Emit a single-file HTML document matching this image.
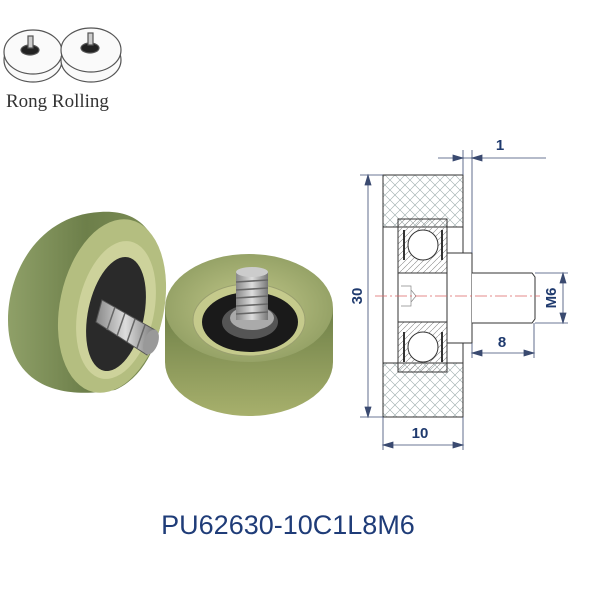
<!DOCTYPE html>
<html><head><meta charset="utf-8"><style>
html,body{margin:0;padding:0;background:#fff;width:600px;height:600px;overflow:hidden}
</style></head><body>
<svg width="600" height="600" xmlns="http://www.w3.org/2000/svg" style="position:absolute;left:0;top:0">
<defs>
<pattern id="hx" width="10" height="10" patternUnits="userSpaceOnUse">
<path d="M0,0 L10,10 M10,0 L0,10" stroke="#9aa" stroke-width="0.6"/>
</pattern>
<pattern id="hl" width="6" height="6" patternUnits="userSpaceOnUse">
<path d="M0,6 L6,0" stroke="#888" stroke-width="0.6"/>
</pattern>
<radialGradient id="gf" cx="50%" cy="50%" r="60%">
<stop offset="0" stop-color="#c2c88a"/><stop offset="1" stop-color="#8d9b60"/>
</radialGradient>
<linearGradient id="gs" x1="0" x2="0" y1="0" y2="1">
<stop offset="0" stop-color="#6f8048"/><stop offset="1" stop-color="#a7b06c"/>
</linearGradient>
<linearGradient id="gl" x1="0" x2="1" y1="0" y2="0">
<stop offset="0" stop-color="#8fa068"/><stop offset="0.5" stop-color="#6d7f4a"/><stop offset="1" stop-color="#7d8e55"/>
</linearGradient>
<linearGradient id="gb" x1="0" x2="1" y1="0" y2="0">
<stop offset="0" stop-color="#888"/><stop offset="0.5" stop-color="#ddd"/><stop offset="1" stop-color="#777"/>
</linearGradient>
</defs>

<!-- logo -->
<g stroke="#555" stroke-width="1.2" fill="#fafafa">
<ellipse cx="33" cy="60" rx="29" ry="22"/>
<ellipse cx="33" cy="52" rx="29" ry="22"/>
<ellipse cx="30" cy="50" rx="9" ry="5" fill="#222"/>
<rect x="28" y="36" width="5" height="12" fill="#ccc"/>
<ellipse cx="91" cy="60" rx="30" ry="22"/>
<ellipse cx="91" cy="50" rx="30" ry="22"/>
<ellipse cx="90" cy="48" rx="9" ry="5" fill="#222"/>
<rect x="88" y="33" width="5" height="12" fill="#ccc"/>
</g>
<text x="6" y="107" font-family="Liberation Serif, serif" font-size="19" fill="#333">Rong Rolling</text>

<!-- left roller -->
<path d="M100,212 C40,215 8,270 8,320 C8,370 40,398 100,392 L115,390 C160,370 172,300 160,255 C150,222 130,210 100,212Z" fill="url(#gl)"/>
<ellipse cx="112" cy="306" rx="52" ry="88" fill="#b4be80" transform="rotate(12 112 306)"/>
<ellipse cx="116" cy="310" rx="38" ry="70" fill="#cdd29b" transform="rotate(12 116 310)"/>
<ellipse cx="116" cy="314" rx="28" ry="58" fill="#2a2a2a" transform="rotate(12 116 314)"/>
<path d="M102,300 L155,330 L147,355 L96,322Z" fill="url(#gb)" stroke="#555"/>
<g stroke="#666" stroke-width="1.5"><line x1="115" y1="307" x2="107" y2="330"/><line x1="125" y1="313" x2="117" y2="336"/><line x1="135" y1="319" x2="127" y2="342"/><line x1="145" y1="325" x2="137" y2="348"/></g>
<ellipse cx="151" cy="342" rx="7" ry="13" fill="#999" transform="rotate(20 151 342)"/>

<!-- right roller -->
<path d="M165,308 L165,362 A84,54 0 0 0 333,362 L333,308Z" fill="url(#gs)"/>
<ellipse cx="249" cy="308" rx="84" ry="54" fill="url(#gf)"/>
<ellipse cx="249" cy="320" rx="56" ry="36" fill="#c5ca8c" stroke="#9aa070"/>
<ellipse cx="250" cy="322" rx="48" ry="30" fill="#1a1a1a"/>
<ellipse cx="250" cy="322" rx="28" ry="17" fill="#555"/>
<ellipse cx="252" cy="318" rx="22" ry="12" fill="#aaa"/>
<rect x="236" y="272" width="32" height="48" fill="url(#gb)"/>
<g stroke="#666" stroke-width="1.5">
<line x1="236" y1="282" x2="268" y2="280"/><line x1="236" y1="290" x2="268" y2="288"/>
<line x1="236" y1="298" x2="268" y2="296"/><line x1="236" y1="306" x2="268" y2="304"/>
<line x1="236" y1="314" x2="268" y2="312"/>
</g>
<ellipse cx="252" cy="272" rx="16" ry="5" fill="#ccc"/>

<!-- drawing -->
<g stroke="#333" stroke-width="1" fill="none">
<rect x="383" y="175" width="80" height="52" fill="url(#hx)"/>
<rect x="383" y="363" width="80" height="54" fill="url(#hx)"/>
<rect x="383" y="175" width="80" height="242"/>
<rect x="398" y="219" width="49" height="54" fill="url(#hl)"/>
<rect x="398" y="322" width="49" height="50" fill="url(#hl)"/>
<rect x="398" y="219" width="49" height="153"/>
<circle cx="423" cy="245" r="15" fill="#fff"/>
<circle cx="423" cy="347" r="15" fill="#fff"/>
<path d="M404,230 v30 M442,230 v30 M404,332 v30 M442,332 v30" stroke-width="2"/>
<rect x="447" y="253" width="25" height="90" fill="#fff"/>
<path d="M472,273 H532 L535,277 V319 L532,323 H472" fill="#fff"/>
<path d="M401,286 h10 v20 h-10 M411,290 l5,6 -5,6" stroke="#888" stroke-width="0.7"/>
</g>
<line x1="375" y1="296" x2="540" y2="296" stroke="#d66" stroke-width="0.8" stroke-dasharray="12,3,2,3"/>

<g stroke="#3a4a70" stroke-width="0.8" fill="#3a4a70">
<line x1="368" y1="175" x2="368" y2="417"/>
<line x1="360" y1="175" x2="383" y2="175"/><line x1="360" y1="417" x2="383" y2="417"/>
<path d="M368,175 l-3,10 h6Z M368,417 l-3,-10 h6Z"/>
<line x1="383" y1="417" x2="383" y2="450"/><line x1="463" y1="417" x2="463" y2="450"/>
<line x1="383" y1="445" x2="463" y2="445"/>
<path d="M383,445 l10,-3 v6Z M463,445 l-10,-3 v6Z"/>
<line x1="463" y1="150" x2="463" y2="175"/><line x1="472" y1="150" x2="472" y2="253"/>
<line x1="438" y1="158" x2="546" y2="158"/>
<path d="M463,158 l-10,-3 v6Z M472,158 l10,-3 v6Z"/>
<line x1="472" y1="343" x2="472" y2="358"/><line x1="534" y1="323" x2="534" y2="358"/>
<line x1="472" y1="353" x2="534" y2="353"/>
<path d="M472,353 l10,-3 v6Z M534,353 l-10,-3 v6Z"/>
<line x1="535" y1="273" x2="568" y2="273"/><line x1="535" y1="323" x2="568" y2="323"/>
<line x1="563" y1="273" x2="563" y2="323"/>
<path d="M563,273 l-3,10 h6Z M563,323 l-3,-10 h6Z"/>
</g>
<g font-family="Liberation Sans, sans-serif" font-weight="bold" font-size="15" fill="#1f3a6e">
<text x="420" y="438" text-anchor="middle">10</text>
<text x="500" y="150" text-anchor="middle">1</text>
<text x="502" y="347" text-anchor="middle">8</text>
<text transform="translate(362,296) rotate(-90)" text-anchor="middle">30</text>
<text transform="translate(556,298) rotate(-90)" text-anchor="middle">M6</text>
</g>

<text x="288" y="534" text-anchor="middle" font-family="Liberation Sans, sans-serif" font-size="27" fill="#1f3c78">PU62630-10C1L8M6</text>
</svg>
</body></html>
